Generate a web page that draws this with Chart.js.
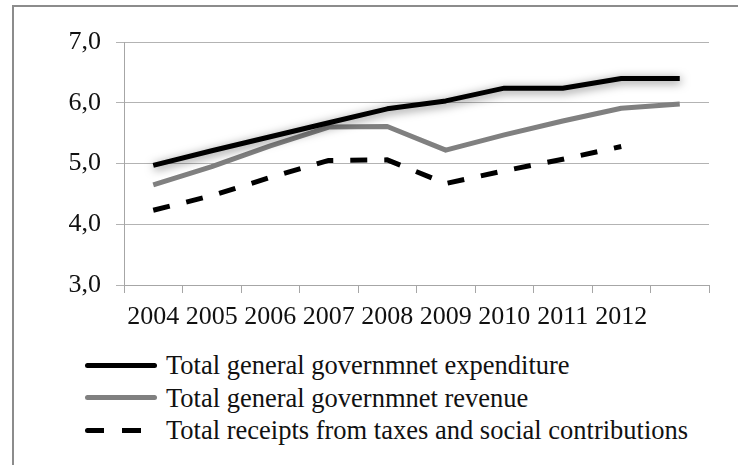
<!DOCTYPE html>
<html>
<head>
<meta charset="utf-8">
<title>General government expenditure and revenue</title>
<script src="https://cdn.jsdelivr.net/npm/chart.js@4.4.1/dist/chart.umd.min.js"></script>
<style>
    body {
        margin: 0;
        width: 738px;
        height: 465px;
        overflow: hidden;
        position: relative;
        background: #fff;
        font-family: "Liberation Serif", "Times New Roman", serif;
    }
    #frame {
        position: absolute;
        left: 12px;
        top: 5px;
        width: 726px;
        height: 460px;
        border-left: 2px solid #8c8c8c;
        border-top: 2px solid #8c8c8c;
    }
    #govChart {
        position: absolute;
        left: 0;
        top: 0;
    }
    #legend {
        position: absolute;
        left: 85px;
        top: 349px;
        font-size: 26.5px;
        line-height: 32.5px;
        color: #111;
    }
    #legend .item {
        display: flex;
        align-items: center;
        white-space: nowrap;
    }
    #legend .swatch {
        display: inline-block;
        width: 72px;
        height: 5px;
        margin-right: 9px;
        border-radius: 3px;
    }
</style>
</head>
<body>
<div id="frame"></div>
<canvas id="govChart" width="738" height="340"></canvas>
<div id="legend"></div>

<script>
// Category labels (the last slot has no year label in the original)
const years = ['2004', '2005', '2006', '2007', '2008', '2009', '2010', '2011', '2012', ''];

// Series values, %
const expenditure = [4.97, 5.21, 5.44, 5.67, 5.90, 6.03, 6.24, 6.24, 6.40, 6.40];
const revenue = [4.65, 4.95, 5.29, 5.60, 5.61, 5.22, 5.47, 5.70, 5.91, 5.98];
const taxes = [4.23, 4.47, 4.77, 5.05, 5.06, 4.67, 4.88, 5.07, 5.28, null];

// Y axis ticks
const yTicks = [3, 4, 5, 6, 7];

const seriesNames = [
    'Total general governmnet expenditure',
    'Total general governmnet revenue',
    'Total receipts from taxes and social contributions'
];

const tickFont = { family: '"Liberation Serif", "Times New Roman", serif', size: 26 };

// Soft shadow under the expenditure line
const lineShadow = {
    id: 'lineShadow',
    beforeDatasetDraw(chart, args) {
        if (args.index !== 0) return;
        const ctx = chart.ctx;
        ctx.save();
        ctx.shadowColor = 'rgba(0, 0, 0, 0.5)';
        ctx.shadowBlur = 10;
        ctx.shadowOffsetX = 1;
        ctx.shadowOffsetY = 2;
    },
    afterDatasetDraw(chart, args) {
        if (args.index !== 0) return;
        chart.ctx.restore();
    }
};

const ctx = document.getElementById('govChart').getContext('2d');
const govChart = new Chart(ctx, {
    type: 'line',
    data: {
        labels: years,
        datasets: [{
            label: seriesNames[0],
            data: expenditure,
            borderColor: '#000000',
            borderWidth: 5
        }, {
            label: seriesNames[1],
            data: revenue,
            borderColor: '#808080',
            borderWidth: 5
        }, {
            label: seriesNames[2],
            data: taxes,
            borderColor: '#000000',
            borderWidth: 5,
            borderDash: [17, 17]
        }]
    },
    options: {
        responsive: false,
        animation: false,
        devicePixelRatio: 1,
        layout: {
            padding: { left: 68, right: 29, top: 42, bottom: 0 }
        },
        elements: {
            point: { radius: 0, hoverRadius: 0 },
            line: { tension: 0, fill: false, borderCapStyle: 'butt', borderJoinStyle: 'round' }
        },
        plugins: {
            legend: { display: false },
            tooltip: { enabled: false }
        },
        scales: {
            x: {
                offset: true,
                afterFit(scale) { scale.height = 55; },
                grid: {
                    offset: true,
                    drawOnChartArea: false,
                    drawTicks: true,
                    tickLength: 8,
                    color: '#a6a6a6'
                },
                border: { color: '#a6a6a6', width: 1 },
                ticks: {
                    font: tickFont,
                    color: '#111',
                    padding: 9,
                    maxRotation: 0,
                    autoSkip: false
                }
            },
            y: {
                min: 3,
                max: 7,
                afterFit(scale) { scale.width = 56; },
                afterBuildTicks(scale) {
                    scale.ticks = yTicks.map(v => ({ value: v }));
                },
                grid: {
                    color: '#b3b3b3',
                    lineWidth: 1,
                    drawTicks: true,
                    tickLength: 8
                },
                border: { color: '#a6a6a6', width: 1 },
                ticks: {
                    font: tickFont,
                    color: '#111',
                    padding: 15,
                    callback: value => value.toFixed(1).replace('.', ',')
                }
            }
        }
    },
    plugins: [lineShadow]
});

// Build the legend under the chart from the dataset settings
function buildLegend() {
    const box = document.getElementById('legend');
    box.innerHTML = '';
    govChart.data.datasets.forEach(ds => {
        const item = document.createElement('div');
        item.className = 'item';
        const swatch = document.createElement('span');
        swatch.className = 'swatch';
        if (ds.borderDash) {
            swatch.style.background = 'repeating-linear-gradient(to right, ' + ds.borderColor +
                ' 0 19px, transparent 19px 37px)';
        } else {
            swatch.style.background = ds.borderColor;
        }
        item.appendChild(swatch);
        item.appendChild(document.createTextNode(ds.label));
        box.appendChild(item);
    });
}

buildLegend();
</script>
</body>
</html>
